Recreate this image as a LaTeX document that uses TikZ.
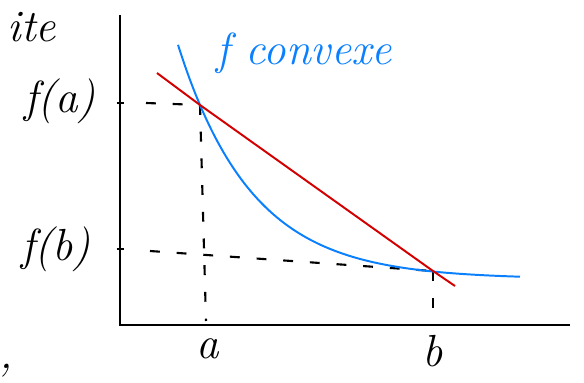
\documentclass[tikz,border=0pt]{standalone}
\usepackage{amsmath}
\usepackage{tikz}
\usetikzlibrary{calc}

\definecolor{convblue}{RGB}{10,128,255}
\definecolor{chordred}{RGB}{210,0,0}

\begin{document}
\begin{tikzpicture}[>=stealth,
  axis/.style={line width=2pt},
  guide/.style={line width=1.5pt,dash pattern=on 7pt off 12pt},
  hand/.style={font=\fontsize{32}{36}\selectfont\itshape},
  curve/.style={convblue,line width=1.4pt},
  chord/.style={chordred,line width=1.4pt}]
  \useasboundingbox (-3,-1.425) rectangle (11.6,8.125);
  % axes
  \coordinate (O) at (0,0);
  \coordinate (ytop) at (0,7.75);
  \coordinate (xend) at (11.25,0);
  \draw[axis] (ytop)--(O)--(xend);
  % points on the curve
  \coordinate (A) at (2.0,5.5);
  \coordinate (B) at (7.825,1.35);
  \coordinate (fa) at (0,5.55);
  \coordinate (fb) at (0,1.9);
  \draw[line width=1.2pt] ($(fa)+(-0.08,0)$)--($(fa)+(0.1,0)$);
  \draw[line width=1.2pt] ($(fb)+(-0.08,0)$)--($(fb)+(0.1,0)$);
  % dashed guides
  \coordinate (fa0) at (0.65,5.55);
  \coordinate (fb0) at (0.75,1.85);
  \coordinate (a0) at (2.15,0.1);
  \coordinate (b0) at (7.825,0.1);
  \draw[guide] (fa0)--(A);
  \draw[guide] (fb0)--(B);
  \draw[guide] (A)--(a0);
  \draw[guide] (B)--(b0);
  % f and its chord
  \draw[curve,domain=1.45:10,smooth,samples=60] plot (\x,{1.15+4.35*exp(-0.54*(\x-2))});
  \draw[chord] (0.925,6.3)--(A)--(B)--(8.375,0.975);
  % labels
  \node[hand] (lfa) at (-1.5,5.6) {f(a)};
  \node[hand] (lfb) at (-1.6,1.9) {f(b)};
  \node[hand] (la) at (2.2,-0.6) {a};
  \node[hand] (lb) at (7.825,-0.65) {b};
  \node[hand,convblue] (lconv) at (4.6,6.8) {f convexe};
  \node[hand] (lite) at (-2.2,7.45) {ite};
  \node[hand] (lcomma) at (-2.85,-1.15) {,};
\end{tikzpicture}
\end{document}
